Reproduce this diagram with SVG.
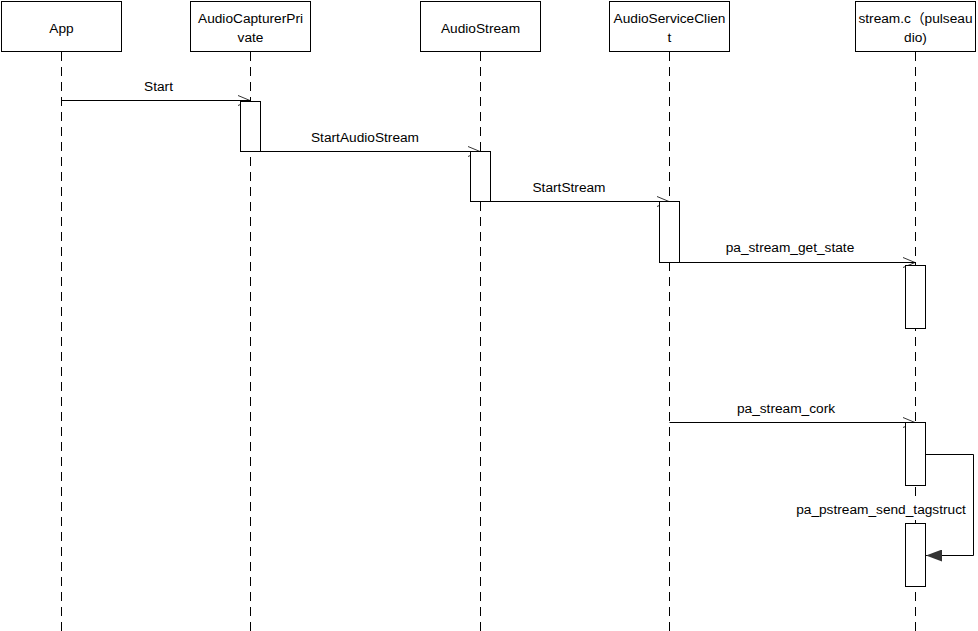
<svg xmlns="http://www.w3.org/2000/svg" width="978" height="631" viewBox="0 0 978 631">
<style>
.box{fill:#fff;stroke:#000;stroke-width:1}
.life{stroke:#000;stroke-width:1;stroke-dasharray:9 6;fill:none}
.act{fill:#fff;stroke:#000;stroke-width:1}
.msg{stroke:#000;stroke-width:1;fill:none}
.t{font-family:"Liberation Sans","Noto Sans CJK SC",sans-serif;font-size:13.7px;fill:#000;text-anchor:middle}
</style>
<defs>
<marker id="open" markerWidth="14" markerHeight="12" refX="12" refY="6" orient="auto" markerUnits="userSpaceOnUse">
<path d="M0,1 L12,6 L0,11" fill="none" stroke="#000" stroke-width="0.8"/>
</marker>
<marker id="fill" markerWidth="16" markerHeight="12" refX="16" refY="6" orient="auto" markerUnits="userSpaceOnUse">
<path d="M0,0 L16,6 L0,12 Z" fill="#333" stroke="none"/>
</marker>
</defs>
<rect width="978" height="631" fill="#fff"/>
<g id="lifelines">
<line class="life" x1="61.5" y1="52" x2="61.5" y2="631"/>
<line class="life" x1="250.5" y1="52" x2="250.5" y2="631"/>
<line class="life" x1="480.5" y1="52" x2="480.5" y2="631"/>
<line class="life" x1="669.5" y1="52" x2="669.5" y2="631"/>
<line class="life" x1="915.5" y1="52" x2="915.5" y2="631"/>
</g>
<g id="connectors">
<line class="msg" x1="61.5" y1="100.5" x2="250" y2="100.5" marker-end="url(#open)"/>
<line class="msg" x1="260.5" y1="151.5" x2="480" y2="151.5" marker-end="url(#open)"/>
<line class="msg" x1="490.5" y1="201.5" x2="669" y2="201.5" marker-end="url(#open)"/>
<line class="msg" x1="679.5" y1="262.5" x2="915" y2="262.5" marker-end="url(#open)"/>
<line class="msg" x1="669.5" y1="422.5" x2="915" y2="422.5" marker-end="url(#open)"/>
</g>
<g id="node-app">
<rect class="box" x="1.5" y="1.5" width="120" height="50"/>
<text class="t" x="61.5" y="33">App</text>
</g>
<g id="node-acp">
<rect class="box" x="190.5" y="1.5" width="120" height="50"/>
<text class="t" x="250.5" y="23">AudioCapturerPri</text>
<text class="t" x="250.5" y="42">vate</text>
<rect class="act" x="240.5" y="101.5" width="20" height="50"/>
</g>
<g id="node-as">
<rect class="box" x="420.5" y="1.5" width="120" height="50"/>
<text class="t" x="480.5" y="33">AudioStream</text>
<rect class="act" x="470.5" y="151.5" width="20" height="50"/>
</g>
<g id="node-asc">
<rect class="box" x="609.5" y="1.5" width="120" height="50"/>
<text class="t" x="669.5" y="23">AudioServiceClien</text>
<text class="t" x="669.5" y="42">t</text>
<rect class="act" x="659.5" y="201.5" width="20" height="61"/>
</g>
<g id="node-stream">
<rect class="box" x="855.5" y="1.5" width="120" height="50"/>
<text class="t" x="915.5" y="23">stream.c（pulseau</text>
<text class="t" x="915.5" y="42">dio)</text>
<rect class="act" x="905.5" y="265.5" width="20" height="63"/>
<rect class="act" x="905.5" y="422.5" width="20" height="63"/>
<rect class="act" x="905.5" y="523.5" width="20" height="63"/>
</g>
<g id="connectors-self">
<polyline class="msg" points="925.5,454.5 973.5,454.5 973.5,555.5 926,555.5" marker-end="url(#fill)"/>
</g>
<g id="labels">
<text class="t" x="158.5" y="91">Start</text>
<text class="t" x="365" y="142">StartAudioStream</text>
<text class="t" x="569" y="192">StartStream</text>
<text class="t" x="790" y="252">pa_stream_get_state</text>
<text class="t" x="786" y="413">pa_stream_cork</text>
<rect x="795" y="500" width="172" height="20" fill="#fff"/>
<text class="t" x="881" y="514">pa_pstream_send_tagstruct</text>
</g>
</svg>
